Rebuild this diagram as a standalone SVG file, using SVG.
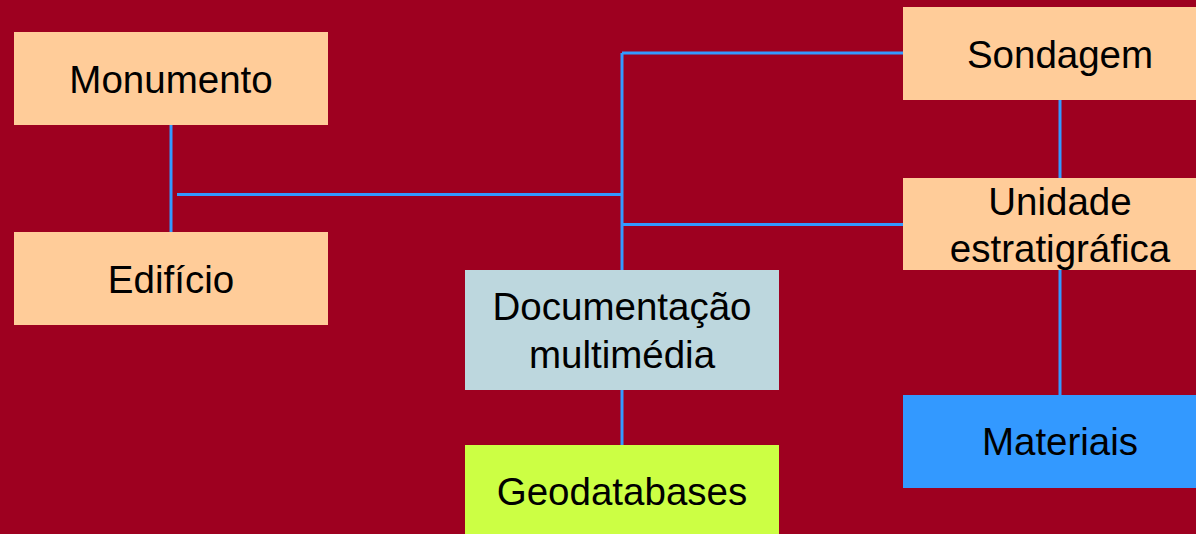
<svg xmlns="http://www.w3.org/2000/svg" width="1196" height="534" viewBox="0 0 1196 534">
<style>
.t{font-family:"Liberation Sans",Arial,sans-serif;font-size:38.5px;fill:#000;text-anchor:middle}
.peach{fill:#FFCC99}
.c{stroke:#3399FF;stroke-width:3;fill:none}
</style>
<rect x="0" y="0" width="1196" height="534" fill="#9E0020"/>
<g id="connectors">
<line class="c" x1="171" y1="125" x2="171" y2="232"/>
<line class="c" x1="177" y1="194.5" x2="622" y2="194.5"/>
<line class="c" x1="622" y1="53" x2="622" y2="270"/>
<line class="c" x1="622" y1="53" x2="903" y2="53"/>
<line class="c" x1="622" y1="224.5" x2="903" y2="224.5"/>
<line class="c" x1="622" y1="390" x2="622" y2="445"/>
<line class="c" x1="1060" y1="100" x2="1060" y2="178"/>
<line class="c" x1="1060" y1="270" x2="1060" y2="395"/>
</g>
<g id="monumento"><rect class="peach" x="14" y="32" width="314" height="93"/><text class="t" x="171" y="93">Monumento</text></g>
<g id="edificio"><rect class="peach" x="14" y="232" width="314" height="93"/><text class="t" x="171" y="293">Edifício</text></g>
<g id="sondagem"><rect class="peach" x="903" y="7" width="314" height="93"/><text class="t" x="1060" y="68">Sondagem</text></g>
<g id="unidade"><rect class="peach" x="903" y="178" width="314" height="92"/><text class="t" x="1060" y="215">Unidade</text><text class="t" x="1060" y="262">estratigráfica</text></g>
<g id="materiais"><rect fill="#3399FF" x="903" y="395" width="314" height="93"/><text class="t" x="1060" y="455">Materiais</text></g>
<g id="documentacao"><rect fill="#BDD7DE" x="465" y="270" width="314" height="120"/><text class="t" x="622" y="320">Documentação</text><text class="t" x="622" y="368">multimédia</text></g>
<g id="geodatabases"><rect fill="#CCFF44" x="465" y="445" width="314" height="93"/><text class="t" x="622" y="505">Geodatabases</text></g>
</svg>
